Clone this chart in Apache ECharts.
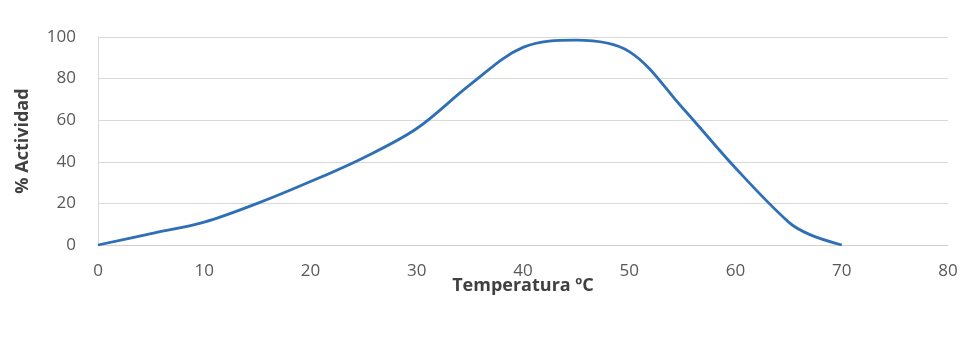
<!DOCTYPE html>
<html><head><meta charset="utf-8">
<script src="https://cdn.jsdelivr.net/npm/echarts@6/dist/echarts.min.js"></script>
<style>html,body{margin:0;padding:0;background:#fff}#c{width:968px;height:337px}</style>
</head><body><div id="c"></div>
<script>
const temperatures = [0, 5, 10, 15, 20, 25, 30, 35, 40, 45, 50, 55, 60, 65, 67, 70];
const activity = [0, 5.5, 11, 20, 30.5, 42, 56, 77, 95, 98.5, 93, 66, 37, 11, 5, 0];
const xTicks = [0, 10, 20, 30, 40, 50, 60, 70, 80];
const yTicks = [0, 20, 40, 60, 80, 100];

const chart = echarts.init(document.getElementById('c'));
chart.setOption({
  animation: false,
  backgroundColor: '#fff',
  grid: { left: 98, right: 20, top: 37, bottom: 92 },
  xAxis: {
    type: 'value', min: xTicks[0], max: xTicks[xTicks.length - 1], interval: 10,
    name: 'Temperatura ºC', nameLocation: 'middle', nameGap: 32, nameMoveOverlap: false,
    nameTextStyle: { fontFamily: 'Open Sans', fontWeight: 'bold', fontSize: 18, color: '#404040' },
    axisLine: { show: true, lineStyle: { color: '#d0d0d0', width: 1 } },
    axisTick: { show: false },
    axisLabel: { margin: 18, fontFamily: 'Open Sans', fontSize: 17, color: '#595959' },
    splitLine: { show: false }
  },
  yAxis: {
    type: 'value', min: yTicks[0], max: yTicks[yTicks.length - 1], interval: 20,
    name: '% Actividad', nameLocation: 'middle', nameGap: 66, nameRotate: 90, nameMoveOverlap: false,
    nameTextStyle: { fontFamily: 'Open Sans', fontWeight: 'bold', fontSize: 18, color: '#404040' },
    axisLine: { show: true, lineStyle: { color: '#d9d9d9', width: 1 } },
    axisTick: { show: false },
    axisLabel: { margin: 22, fontFamily: 'Open Sans', fontSize: 17, color: '#595959' },
    splitLine: { show: true, lineStyle: { color: '#d9d9d9', width: 1 } }
  },
  series: [{
    type: 'line',
    data: temperatures.map((t, i) => [t, activity[i]]),
    smooth: 0.35,
    showSymbol: false,
    lineStyle: { color: '#2e6fb5', width: 2.8 }
  }]
});
</script></body></html>
